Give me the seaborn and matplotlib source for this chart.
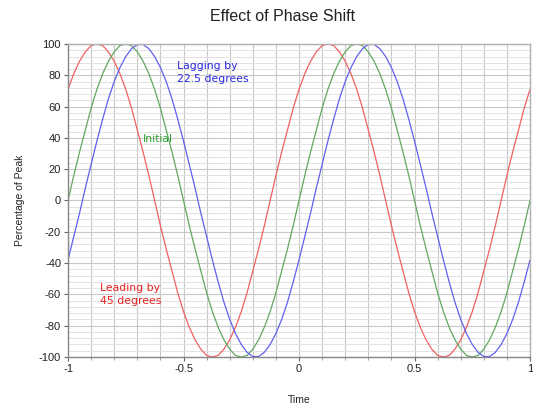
import numpy as np
import pandas as pd
import matplotlib
matplotlib.use("Agg")
import matplotlib.pyplot as plt
from matplotlib.ticker import MultipleLocator
import seaborn as sns

# time axis sampled every 0.025 from -1 to 1
time = np.round(np.arange(-40, 41) / 40, 3)

# values (percentage of peak)
initial = [0, 16, 31, 45, 59, 71, 81, 89, 95, 99, 100, 99, 95, 89, 81, 71, 59, 45, 31, 16,
           0, -16, -31, -45, -59, -71, -81, -89, -95, -99, -100, -99, -95, -89, -81, -71, -59, -45, -31, -16,
           0, 16, 31, 45, 59, 71, 81, 89, 95, 99, 100, 99, 95, 89, 81, 71, 59, 45, 31, 16,
           0, -16, -31, -45, -59, -71, -81, -89, -95, -99, -100, -99, -95, -89, -81, -71, -59, -45, -31, -16,
           0]
leading = [71, 81, 89, 95, 99, 100, 99, 95, 89, 81, 71, 59, 45, 31, 16, 0, -16, -31, -45, -59,
           -71, -81, -89, -95, -99, -100, -99, -95, -89, -81, -71, -59, -45, -31, -16, 0, 16, 31, 45, 59,
           71, 81, 89, 95, 99, 100, 99, 95, 89, 81, 71, 59, 45, 31, 16, 0, -16, -31, -45, -59,
           -71, -81, -89, -95, -99, -100, -99, -95, -89, -81, -71, -59, -45, -31, -16, 0, 16, 31, 45, 59,
           71]
lagging = [-38, -23, -8, 8, 23, 38, 52, 65, 76, 85, 92, 97, 99.7, 99.7, 97, 92, 85, 76, 65, 52,
           38, 23, 8, -8, -23, -38, -52, -65, -76, -85, -92, -97, -99.7, -99.7, -97, -92, -85, -76, -65, -52,
           -38, -23, -8, 8, 23, 38, 52, 65, 76, 85, 92, 97, 99.7, 99.7, 97, 92, 85, 76, 65, 52,
           38, 23, 8, -8, -23, -38, -52, -65, -76, -85, -92, -97, -99.7, -99.7, -97, -92, -85, -76, -65, -52,
           -38]

series_names = ["Leading by 45 degrees", "Initial", "Lagging by 22.5 degrees"]
line_colors = ["#f06060", "#60a860", "#6060f0"]
text_colors = ["#e82020", "#30a030", "#2828e0"]

df = pd.concat([
    pd.DataFrame({"Time": time, "Percentage of Peak": vals, "Series": name})
    for name, vals in zip(series_names, [leading, initial, lagging])
])

sns.set_theme(style="white")
plt.rcParams["font.family"] = ["Liberation Sans", "DejaVu Sans"]
plt.rcParams["axes.unicode_minus"] = False

fig = plt.figure(figsize=(5.33, 4.05), dpi=100)
ax = fig.add_axes([0.1276, 0.1185, 0.8668, 0.7729])

sns.lineplot(data=df, x="Time", y="Percentage of Peak", hue="Series",
             palette=dict(zip(series_names, line_colors)), linewidth=0.9,
             legend=False, ax=ax)

ax.set_xlim(-1, 1)
ax.set_ylim(-100, 100)
ax.xaxis.set_major_locator(MultipleLocator(0.5))
ax.xaxis.set_minor_locator(MultipleLocator(0.1))
ax.yaxis.set_major_locator(MultipleLocator(20))
ax.yaxis.set_minor_locator(MultipleLocator(4))
ax.set_xticks([-1, -0.5, 0, 0.5, 1])
ax.set_xticklabels(["-1", "-0.5", "0", "0.5", "1"])

ax.grid(which="major", axis="both", color="#c8c8c8", linewidth=0.8)
ax.grid(which="minor", axis="x", color="#c8c8c8", linewidth=0.8)
ax.grid(which="minor", axis="y", color="#e2e2e2", linewidth=0.7)
ax.set_axisbelow(True)

ax.tick_params(axis="both", which="major", labelsize=8, length=3, width=0.8,
               color="#666666", labelcolor="#222222", direction="out",
               bottom=True, left=True, pad=2)
ax.tick_params(axis="x", which="minor", length=2, width=0.6, color="#888888",
               direction="out", bottom=True)
for side, sp in ax.spines.items():
    sp.set_color("#888888" if side in ("left", "bottom") else "#b0b0b0")
    sp.set_linewidth(1.0)

ax.set_xlabel("Time", fontsize=7.5, labelpad=15, color="#222222")
ax.set_ylabel("Percentage of Peak", fontsize=7.5, labelpad=10, color="#222222")
fig.text(0.531, 0.96, "Effect of Phase Shift", fontsize=11.5, color="#222222",
         ha="center", va="center")

ann_font = ["DejaVu Sans"]
ax.text(-0.53, 89, "Lagging by\n22.5 degrees", color=text_colors[2], fontsize=7.8,
        va="top", ha="left", linespacing=1.3, family=ann_font)
ax.text(-0.675, 39, "Initial", color=text_colors[1], fontsize=7.8,
        va="center", ha="left", family=ann_font)
ax.text(-0.86, -53, "Leading by\n45 degrees", color=text_colors[0], fontsize=7.8,
        va="top", ha="left", linespacing=1.3, family=ann_font)

fig.savefig("out.png", dpi=100)
